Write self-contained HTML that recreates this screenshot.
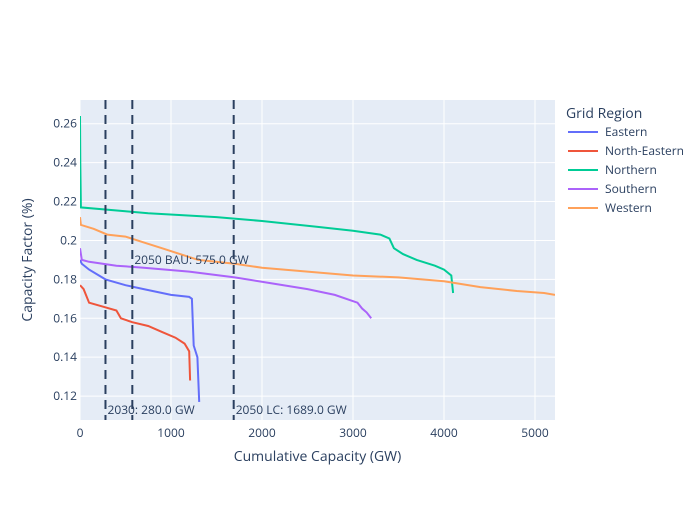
<!DOCTYPE html>
<html><head><meta charset="utf-8"><style>
body{margin:0;background:#fff;font-family:"Liberation Sans",sans-serif}
svg text{font-family:"Open Sans","Liberation Sans",sans-serif;fill:#2a3f5f}
</style></head><body>
<svg id="c" width="700" height="500"></svg>
<script>
const seriesNames=["Eastern","North-Eastern","Northern","Southern","Western"];
const seriesColors=["#636efa","#EF553B","#00cc96","#ab63fa","#FFA15A"];
const easternX=[0,20,100,280,500,700,1000,1200,1230,1250,1290,1310];
const easternY=[0.190,0.188,0.185,0.180,0.177,0.175,0.172,0.171,0.170,0.146,0.140,0.117];
const neX=[0,40,100,250,400,450,575,750,900,1050,1150,1200,1210];
const neY=[0.177,0.175,0.168,0.166,0.164,0.160,0.158,0.156,0.153,0.150,0.147,0.143,0.128];
const northX=[0,3,10,500,750,1500,2000,2600,3000,3300,3400,3450,3550,3700,3900,4000,4080,4100];
const northY=[0.264,0.240,0.217,0.215,0.214,0.212,0.210,0.207,0.205,0.203,0.201,0.196,0.193,0.190,0.187,0.185,0.182,0.173];
const southX=[0,20,100,400,700,1200,1700,2100,2500,2800,3050,3100,3150,3200];
const southY=[0.196,0.190,0.189,0.187,0.186,0.184,0.181,0.178,0.175,0.172,0.168,0.165,0.163,0.160];
const westX=[0,10,150,300,500,700,900,1100,1300,1700,2000,2500,3000,3500,4000,4400,4800,5100,5220];
const westY=[0.212,0.208,0.206,0.203,0.202,0.199,0.196,0.193,0.190,0.188,0.186,0.184,0.182,0.181,0.179,0.176,0.174,0.173,0.172];
const vlineX=[280,575,1689];
const vlineLabels=["2030: 280.0 GW","2050 BAU: 575.0 GW","2050 LC: 1689.0 GW"];
const xTicks=[0,1000,2000,3000,4000,5000];
const yTicks=[0.12,0.14,0.16,0.18,0.2,0.22,0.24,0.26];
const yTickLabels=["0.12","0.14","0.16","0.18","0.2","0.22","0.24","0.26"];

const L=80,R=555,T=100,B=420,xMax=5220,yMin=0.1077,yMax=0.2722;
const sx=v=>L+v/xMax*(R-L);
const sy=v=>B-(v-yMin)/(yMax-yMin)*(B-T);
const svg=document.getElementById('c');
const NS="http://www.w3.org/2000/svg";
function mk(t,a,p){const e=document.createElementNS(NS,t);for(const k in a)e.setAttribute(k,a[k]);(p||svg).appendChild(e);return e;}
let e=mk('rect',{x:L,y:T,width:R-L,height:B-T,fill:'#e5ecf6'});


xTicks.forEach(t=>{
  const g=mk('line',{x1:sx(t),x2:sx(t),y1:T,y2:B,stroke:'#fff','stroke-width':1});
  
  
  const tx=mk('text',{x:sx(t),y:B+17,'text-anchor':'middle','font-size':12});tx.textContent=t;
  
  
});
yTicks.forEach((t,i)=>{
  const g=mk('line',{x1:L,x2:R,y1:sy(t),y2:sy(t),stroke:'#fff','stroke-width':1});
  
  
  const tx=mk('text',{x:L-3,y:sy(t)+4,'text-anchor':'end','font-size':12});tx.textContent=yTickLabels[i];
  
  
});
const xs=[easternX,neX,northX,southX,westX],ys=[easternY,neY,northY,southY,westY];
const clip=mk('clipPath',{id:'cp'});mk('rect',{x:L,y:T,width:R-L,height:B-T},clip);
xs.forEach((X,i)=>{
  const d=X.map((x,j)=>(j?'L':'M')+sx(x).toFixed(1)+','+sy(ys[i][j]).toFixed(1)).join('');
  const p=mk('path',{d,fill:'none',stroke:seriesColors[i],'stroke-width':2,'clip-path':'url(#cp)'});
  
  
});
vlineX.forEach((v,i)=>{
  const l=mk('line',{x1:sx(v),x2:sx(v),y1:T,y2:B,stroke:'#2a3f5f','stroke-width':2,'stroke-dasharray':'9,6'});
  
  
  const ty=i==1?264:414;
  const tx=mk('text',{x:sx(v)+2,y:ty,'font-size':12});tx.textContent=vlineLabels[i];
  
  
});
let t=mk('text',{x:(L+R)/2,y:461,'text-anchor':'middle','font-size':14});t.textContent='Cumulative Capacity (GW)';


t=mk('text',{x:32,y:260,'text-anchor':'middle','font-size':14,transform:'rotate(-90 32 260)'});t.textContent='Capacity Factor (%)';


t=mk('text',{x:566,y:118,'font-size':14});t.textContent='Grid Region';


seriesNames.forEach((n,i)=>{
  const y=132+i*19;
  const g=mk('g',{});
  
  
  mk('line',{x1:568,x2:598,y1:y,y2:y,stroke:seriesColors[i],'stroke-width':2},g);
  const tx=mk('text',{x:605,y:y+4,'font-size':12},g);tx.textContent=n;
});
</script>
</body></html>
